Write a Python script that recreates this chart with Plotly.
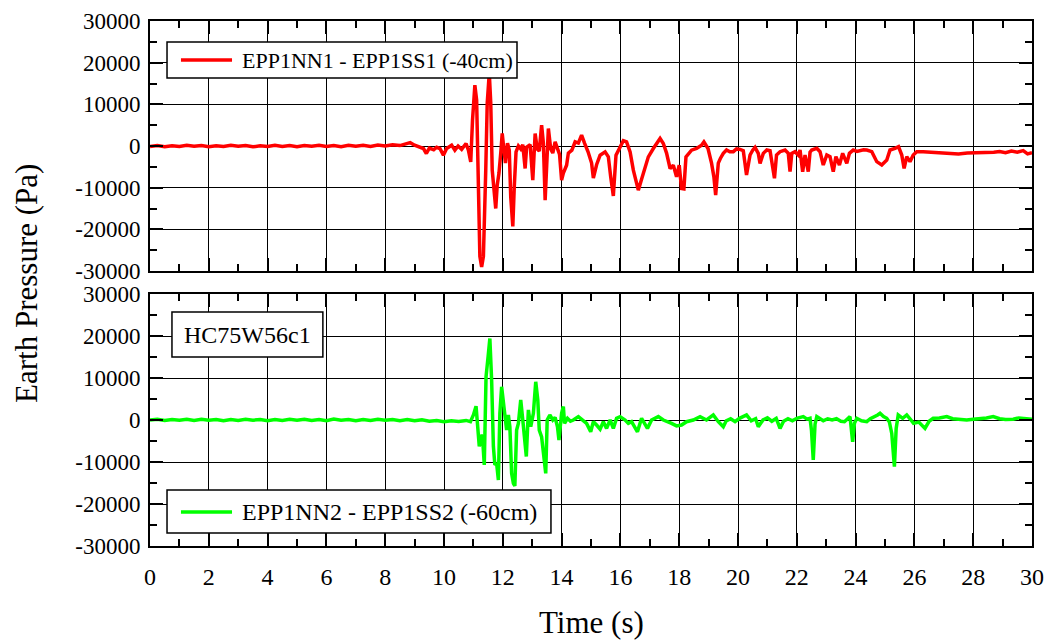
import plotly.graph_objects as go

# ---------------- data ----------------
# (time in s, pressure in Pa) samples of the upper record
RED_SAMPLES = [
    (0, -100), (0.25, 100), (0.5, -150), (0.75, 50), (1.0, -100), (1.25, 150), (1.5, -50), (1.75, 100),
    (2.0, -150), (2.25, 50), (2.5, -100), (2.75, 150), (3.0, -50), (3.25, 100), (3.5, -200), (3.75, 50),
    (4.0, -100), (4.25, 150), (4.5, -100), (4.75, 100), (5.0, -150), (5.25, 100), (5.5, -50), (5.75, 150),
    (6.0, -100), (6.25, 100), (6.5, -150), (6.75, 200), (7.0, -50), (7.25, 150), (7.5, -100), (7.75, 250),
    (8.0, 0), (8.25, 300), (8.5, 100), (8.7, 500), (8.85, 800), (9.0, 200), (9.15, -200), (9.3, -600),
    (9.4, -1800), (9.5, -500), (9.65, -900), (9.75, -300), (9.86, -600), (9.98, -2200), (10.09, -600),
    (10.26, 200), (10.37, -1000), (10.48, 0), (10.6, -800), (10.75, 600), (10.83, -1000), (10.91, -3800),
    (10.97, 6200), (11.05, 14600), (11.11, 11000), (11.17, -7400), (11.22, -26500), (11.28, -29000),
    (11.34, -26500), (11.42, -5800), (11.47, 10300), (11.54, 17500), (11.59, 10300), (11.64, -5800),
    (11.7, -11000), (11.76, -15000), (11.81, -9400), (11.87, -6500), (11.93, -1700), (11.98, 3000),
    (12.04, -1000), (12.09, -4100), (12.16, 700), (12.22, -1000), (12.27, -12200), (12.34, -19300),
    (12.39, -9800), (12.45, -1400), (12.53, 0), (12.61, -700), (12.68, 300), (12.76, -5400), (12.81, -300),
    (12.93, 300), (13.02, -8200), (13.1, 3000), (13.17, -700), (13.24, -1200), (13.32, 5000), (13.38, 700),
    (13.44, -13000), (13.5, -1700), (13.55, 4200), (13.63, -700), (13.7, -1700), (13.78, 1000),
    (13.86, -700), (13.93, -2000), (14.0, -8200), (14.06, -6500), (14.17, -4600), (14.23, -1700),
    (14.35, -1000), (14.46, 1000), (14.57, 700), (14.68, 2600), (14.78, 700), (14.9, -1400), (15.02, -4100),
    (15.08, -7700), (15.19, -4500), (15.31, -2200), (15.48, -1400), (15.59, -2600), (15.67, -7400),
    (15.76, -12000), (15.85, -2200), (15.99, 0), (16.1, 1300), (16.21, 1000), (16.33, -1400),
    (16.44, -5800), (16.55, -8600), (16.61, -10600), (16.72, -8000), (16.84, -5400), (16.95, -2600),
    (17.12, -600), (17.23, 600), (17.35, 1800), (17.46, 600), (17.57, -1700), (17.69, -5400),
    (17.8, -4600), (17.91, -7400), (18.0, -4600), (18.08, -10200), (18.16, -10300), (18.23, -2600),
    (18.42, -1000), (18.59, -600), (18.76, 200), (18.84, 1000), (18.98, -600), (19.1, -4100),
    (19.18, -7400), (19.24, -11800), (19.33, -4100), (19.4, -3000), (19.5, -1760), (19.61, -960),
    (19.72, -1400), (19.84, -1360), (19.95, -700), (20.07, -800), (20.18, -1120), (20.29, -6950),
    (20.41, -2160), (20.5, -1000), (20.58, -320), (20.69, -1760), (20.75, -4160), (20.86, -1760),
    (20.98, -960), (21.09, -1120), (21.24, -7750), (21.31, -2160), (21.43, -1360), (21.6, -960),
    (21.71, -1760), (21.77, -6160), (21.83, -1760), (21.94, -1360), (22.05, -2160), (22.11, -960),
    (22.2, -6160), (22.28, -2160), (22.39, -6160), (22.45, -1500), (22.51, -960), (22.68, -560),
    (22.79, -1360), (22.9, -4560), (23.02, -2160), (23.13, -2560), (23.24, -6160), (23.33, -2560),
    (23.45, -4560), (23.56, -1760), (23.7, -4160), (23.79, -1760), (23.92, -960), (24.05, -1300),
    (24.15, -1120), (24.27, -900), (24.38, -960), (24.55, -1360), (24.72, -3760), (24.89, -4560),
    (25.06, -3360), (25.17, -960), (25.34, -560), (25.46, -160), (25.57, -2160), (25.65, -5360),
    (25.74, -2560), (25.85, -3760), (25.96, -2160), (26.08, -1360), (26.3, -1360), (26.64, -1500),
    (26.9, -1600), (27.2, -1800), (27.5, -1900), (27.8, -1700), (28.1, -1700), (28.4, -1600),
    (28.7, -1500), (28.9, -1300), (29.1, -1600), (29.3, -1200), (29.5, -1500), (29.7, -1100),
    (29.85, -1900), (30.0, -1600),
]

# (time in s, pressure in Pa) samples of the lower record
GREEN_SAMPLES = [
    (0, 0), (0.25, 150), (0.5, -100), (0.75, 100), (1.0, -50), (1.25, 200), (1.5, -100), (1.75, 150),
    (2.0, -50), (2.25, 100), (2.5, -150), (2.75, 100), (3.0, -100), (3.25, 150), (3.5, -50), (3.75, 100),
    (4.0, -150), (4.25, 100), (4.5, -100), (4.75, 150), (5.0, -50), (5.25, 200), (5.5, -100), (5.75, 100),
    (6.0, -150), (6.25, 250), (6.5, -50), (6.75, 100), (7.0, -150), (7.25, 100), (7.5, -100), (7.75, 150),
    (8.0, -50), (8.25, 100), (8.5, -150), (8.75, 100), (9.0, -200), (9.25, 50), (9.5, -300), (9.75, -150),
    (10.0, -400), (10.25, -200), (10.5, -350), (10.75, -100), (10.9, -400), (11.0, 1200), (11.09, 3300),
    (11.14, -2400), (11.2, -6300), (11.26, -3600), (11.31, -4000), (11.37, -10700), (11.43, 10300),
    (11.5, 15100), (11.56, 19400), (11.62, 9500), (11.68, -6300), (11.73, -10700), (11.79, -10300),
    (11.85, -14300), (11.9, 1600), (11.96, 7900), (12.02, 4400), (12.07, 1600), (12.13, -2400),
    (12.19, 1200), (12.24, -1600), (12.3, -12700), (12.36, -15100), (12.41, -15700), (12.47, -2400),
    (12.53, -800), (12.61, 4800), (12.68, 0), (12.74, -4800), (12.8, -8700), (12.87, 2400), (12.95, -1600),
    (13.04, 1600), (13.12, 9100), (13.19, 4800), (13.24, -2400), (13.32, -4000), (13.4, -9500),
    (13.46, -12700), (13.51, 0), (13.6, 1200), (13.7, 0), (13.78, 600), (13.86, -1600), (13.91, -4800),
    (14.0, 1600), (14.06, 3200), (14.1, -800), (14.2, 400), (14.3, -300), (14.4, 0), (14.57, 800),
    (14.7, 0), (14.85, -800), (14.99, -2800), (15.08, -400), (15.19, -1200), (15.31, -2200), (15.42, -400),
    (15.53, -2000), (15.65, 0), (15.76, -2000), (15.87, 400), (15.99, 800), (16.16, 0), (16.27, -800),
    (16.38, -400), (16.58, -2800), (16.72, 400), (16.92, -2000), (17.06, 0), (17.29, 800), (17.46, 0),
    (17.6, -300), (17.74, -800), (17.91, -1400), (18.08, -1200), (18.25, -400), (18.48, 0), (18.71, 800),
    (18.93, 0), (19.16, 1200), (19.33, -400), (19.5, -1600), (19.6, -200), (19.75, 300), (19.9, -400),
    (20.05, 400), (20.29, 1200), (20.45, -200), (20.6, 300), (20.69, -1600), (20.85, 0), (21.0, 500),
    (21.15, -300), (21.3, 400), (21.43, -2000), (21.55, -300), (21.7, 300), (21.85, -200), (22.0, 400),
    (22.22, 800), (22.35, 200), (22.45, 400), (22.5, -2500), (22.56, -9500), (22.62, -1000), (22.68, 800),
    (22.8, 200), (22.9, -200), (23.05, 300), (23.2, 0), (23.35, 300), (23.5, -300), (23.62, -400),
    (23.75, 500), (23.81, 800), (23.86, -2500), (23.9, -5200), (23.96, -800), (24.04, 400), (24.2, -200),
    (24.38, -400), (24.5, 300), (24.6, 600), (24.75, 1200), (24.83, 1600), (24.95, 800), (25.06, 400),
    (25.15, -500), (25.23, -3200), (25.32, -11100), (25.38, -2000), (25.45, 1200), (25.6, 400),
    (25.74, 1200), (25.85, 300), (25.97, -800), (26.15, -500), (26.36, -2000), (26.5, -300), (26.64, 400),
    (26.85, 500), (27.1, 800), (27.3, 300), (27.5, 100), (27.78, 0), (28.0, 200), (28.2, 300),
    (28.45, 500), (28.68, 800), (28.9, 300), (29.1, 100), (29.36, 200), (29.55, 500), (29.75, 300),
    (30.0, 200),
]

TIME_RED = [s[0] for s in RED_SAMPLES]
PRESSURE_RED = [s[1] for s in RED_SAMPLES]
TIME_GREEN = [s[0] for s in GREEN_SAMPLES]
PRESSURE_GREEN = [s[1] for s in GREEN_SAMPLES]

X_TICKS = [0, 2, 4, 6, 8, 10, 12, 14, 16, 18, 20, 22, 24, 26, 28, 30]
X_TICK_LABELS = [str(v) for v in X_TICKS]
Y_TICKS = [-30000, -20000, -10000, 0, 10000, 20000, 30000]
Y_TICK_LABELS = ["-30000", "-20000", "-10000", "0", "10000", "20000", "30000"]

NAME_RED = "EPP1NN1 - EPP1SS1 (-40cm)"
NAME_GREEN = "EPP1NN2 - EPP1SS2 (-60cm)"
SPECIMEN = "HC75W56c1"
RED = "#ff0000"
GREEN = "#00ff00"
FONT = "Liberation Serif"

fig = go.Figure()
fig.add_trace(go.Scatter(x=TIME_RED, y=PRESSURE_RED, mode="lines", name=NAME_RED,
                         line=dict(color=RED, width=3.5), xaxis="x", yaxis="y", showlegend=False))
fig.add_trace(go.Scatter(x=TIME_GREEN, y=PRESSURE_GREEN, mode="lines", name=NAME_GREEN,
                         line=dict(color=GREEN, width=3.5), xaxis="x2", yaxis="y2", showlegend=False))

common_x = dict(range=[0, 30], tickvals=X_TICKS, ticktext=X_TICK_LABELS, ticks="inside", ticklen=13,
                tickwidth=1.5, tickcolor="black", showline=True, linecolor="black", linewidth=2,
                mirror="allticks", showgrid=True, gridcolor="black", gridwidth=1, zeroline=False,
                minor=dict(dtick=1, tick0=0, ticks="inside", ticklen=7, tickwidth=1.5, tickcolor="black",
                           showgrid=False),
                ticklabelstandoff=8, automargin=False, ticklabeloverflow="allow",
                tickfont=dict(family=FONT, size=24, color="black"))
common_y = dict(range=[-30000, 30000], tickvals=Y_TICKS, ticktext=Y_TICK_LABELS, ticks="inside", ticklen=13,
                tickwidth=1.5, tickcolor="black", showline=True, linecolor="black", linewidth=2,
                mirror="allticks", showgrid=True, gridcolor="black", gridwidth=1, zeroline=False,
                minor=dict(dtick=5000, tick0=0, ticks="inside", ticklen=7, tickwidth=1.5, tickcolor="black",
                           showgrid=False),
                ticklabelstandoff=3, automargin=False,
                tickfont=dict(family=FONT, size=23, color="black"))

fig.update_layout(
    width=1047, height=640, autosize=False,
    margin=dict(l=150, r=15, t=21, b=94, autoexpand=False),
    paper_bgcolor="white", plot_bgcolor="white",
    font=dict(family=FONT, color="black"),
    xaxis=dict(common_x, domain=[0, 1], anchor="y", showticklabels=False, matches="x2"),
    yaxis=dict(common_y, domain=[0.5238, 1], anchor="x"),
    xaxis2=dict(common_x, domain=[0, 1], anchor="y2"),
    yaxis2=dict(common_y, domain=[0, 0.48], anchor="x2"),
)

shapes = [
    # top legend
    dict(type="rect", xref="x domain", yref="y domain", x0=0.0193, x1=0.4161, y0=0.772, y1=0.916,
         line=dict(color="black", width=1.5), fillcolor="white", layer="above"),
    dict(type="line", xref="x domain", yref="y domain", x0=0.0351, x1=0.093, y0=0.844, y1=0.844,
         line=dict(color=RED, width=3.5), layer="above"),
    # bottom legend
    dict(type="rect", xref="x2 domain", yref="y2 domain", x0=0.0193, x1=0.4546, y0=0.0516, y1=0.222,
         line=dict(color="black", width=1.5), fillcolor="white", layer="above"),
    dict(type="line", xref="x2 domain", yref="y2 domain", x0=0.0351, x1=0.093, y0=0.135, y1=0.135,
         line=dict(color=GREEN, width=3.5), layer="above"),
    # specimen box
    dict(type="rect", xref="x2 domain", yref="y2 domain", x0=0.0249, x1=0.196, y0=0.75, y1=0.9286,
         line=dict(color="black", width=1.5), fillcolor="white", layer="above"),
]
annotations = [
    dict(text=NAME_RED, xref="x domain", yref="y domain", x=0.102, y=0.844, xanchor="left", yanchor="middle",
         showarrow=False, font=dict(family=FONT, size=22, color="black")),
    dict(text=NAME_GREEN, xref="x2 domain", yref="y2 domain", x=0.102, y=0.135, xanchor="left",
         yanchor="middle", showarrow=False, font=dict(family=FONT, size=24, color="black")),
    dict(text=SPECIMEN, xref="x2 domain", yref="y2 domain", x=0.1105, y=0.839, xanchor="center",
         yanchor="middle", showarrow=False, font=dict(family=FONT, size=24, color="black")),
    dict(text="Earth Pressure (Pa)", xref="paper", yref="paper", x=-0.1395, y=0.501, textangle=-90,
         xanchor="center", yanchor="middle", showarrow=False, font=dict(family=FONT, size=31, color="black")),
    dict(text="Time (s)", xref="paper", yref="paper", x=0.501, y=-0.1448, xanchor="center", yanchor="middle",
         showarrow=False, font=dict(family=FONT, size=31, color="black")),
]
fig.update_layout(shapes=shapes, annotations=annotations)

fig.write_html("out.html")
